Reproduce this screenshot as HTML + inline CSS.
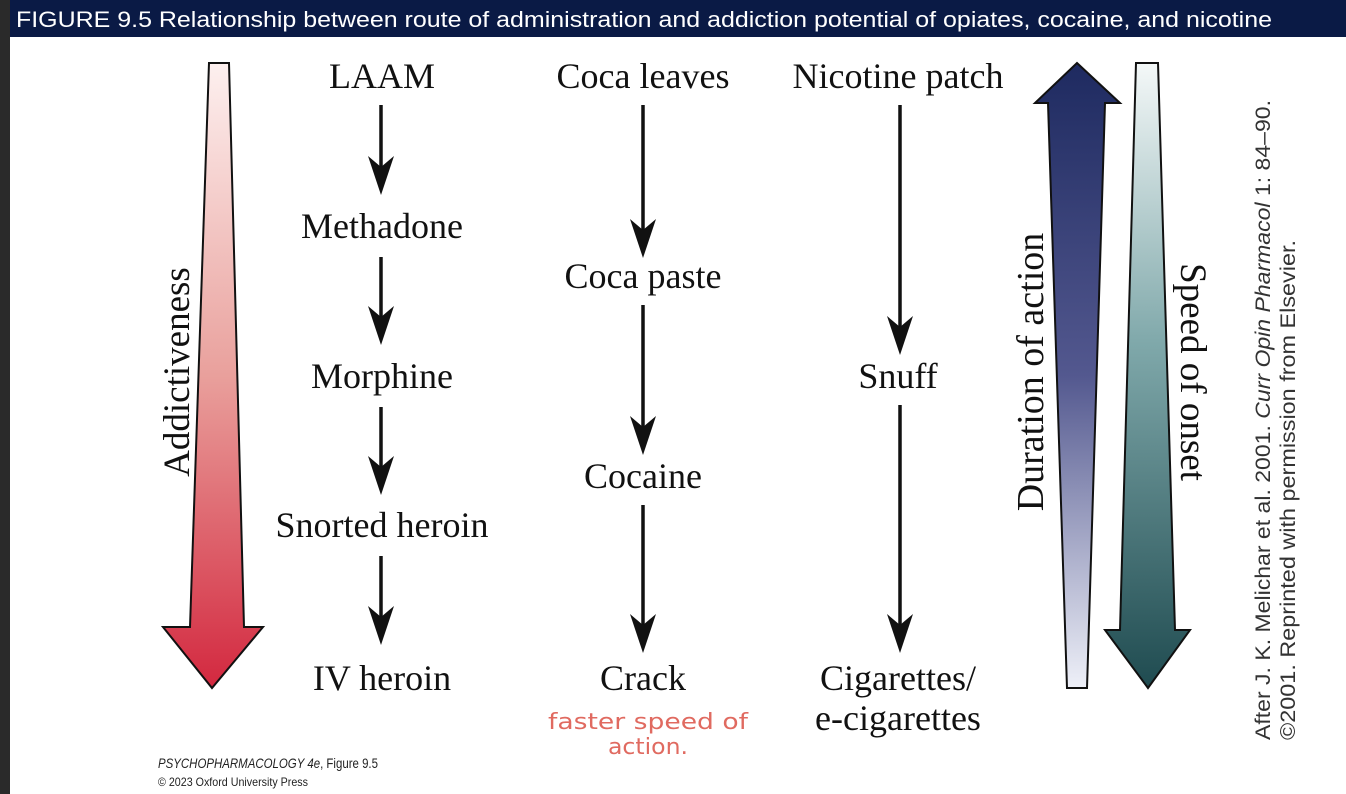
<!DOCTYPE html>
<html><head><meta charset="utf-8"><style>
body{margin:0;width:1346px;height:794px;overflow:hidden;background:#fff;}
svg{display:block}
</style></head><body>
<svg width="1346" height="794" viewBox="0 0 1346 794" xmlns="http://www.w3.org/2000/svg">
<defs>
<linearGradient id="gr" x1="0" y1="0" x2="0" y2="1"><stop offset="0" stop-color="#fdf0ef"/><stop offset="0.5" stop-color="#e9a09c"/><stop offset="1" stop-color="#d3283f"/></linearGradient>
<linearGradient id="gb" x1="0" y1="0" x2="0" y2="1"><stop offset="0" stop-color="#1e2a60"/><stop offset="0.5" stop-color="#53588f"/><stop offset="1" stop-color="#eef0f8"/></linearGradient>
<linearGradient id="gt" x1="0" y1="0" x2="0" y2="1"><stop offset="0" stop-color="#f4f8f8"/><stop offset="0.45" stop-color="#7fa8aa"/><stop offset="1" stop-color="#1f4b50"/></linearGradient>
</defs>
<rect x="0" y="0" width="10" height="794" fill="#2a2a2a"/>
<rect x="10" y="0" width="1336" height="37" fill="#0a1a45"/>
<text x="16" y="27" font-family="Liberation Sans, sans-serif" font-size="22" fill="#fff" textLength="1256" lengthAdjust="spacingAndGlyphs">FIGURE 9.5  Relationship between route of administration and addiction potential of opiates, cocaine, and nicotine</text>

<path d="M209,63 L229,63 L244,627 L263,627 L212,688 L163,627 L190,627 Z" fill="url(#gr)" stroke="#111" stroke-width="2"/>
<path d="M1077,63 L1120,103 L1105,103 L1087,688 L1067,688 L1048,103 L1035,103 Z" fill="url(#gb)" stroke="#111" stroke-width="2"/>
<path d="M1136,63 L1158,63 L1175,630 L1190,630 L1148,688 L1105,630 L1120,630 Z" fill="url(#gt)" stroke="#111" stroke-width="2"/>

<g font-family="Liberation Serif, serif" font-size="36" fill="#111">
<text transform="translate(189,372) rotate(-90)" text-anchor="middle" font-size="37">Addictiveness</text>
<text transform="translate(1043,372) rotate(-90)" text-anchor="middle" font-size="38">Duration of action</text>
<text transform="translate(1181,372) rotate(90)" text-anchor="middle" font-size="37">Speed of onset</text>
<g text-anchor="middle">
<text x="382" y="88">LAAM</text>
<text x="382" y="238">Methadone</text>
<text x="382" y="388">Morphine</text>
<text x="382" y="537">Snorted heroin</text>
<text x="382" y="690">IV heroin</text>
<text x="643" y="88">Coca leaves</text>
<text x="643" y="288">Coca paste</text>
<text x="643" y="488">Cocaine</text>
<text x="643" y="690">Crack</text>
<text x="898" y="88">Nicotine patch</text>
<text x="898" y="388">Snuff</text>
<text x="898" y="690">Cigarettes/</text>
<text x="898" y="730">e-cigarettes</text>
</g></g>

<g stroke="#111" stroke-width="3.5">
<line x1="381" y1="105" x2="381" y2="170"/><line x1="381" y1="257" x2="381" y2="320"/>
<line x1="381" y1="407" x2="381" y2="470"/><line x1="381" y1="556" x2="381" y2="620"/>
<line x1="643" y1="105" x2="643" y2="235"/><line x1="643" y1="305" x2="643" y2="432"/>
<line x1="643" y1="505" x2="643" y2="630"/>
<line x1="900" y1="105" x2="900" y2="333"/><line x1="900" y1="405" x2="900" y2="630"/>
</g>
<g fill="#111">
<path d="M381,195 L368,156 L381,167 L394,156 Z"/>
<path d="M381,345 L368,306 L381,317 L394,306 Z"/>
<path d="M381,495 L368,456 L381,467 L394,456 Z"/>
<path d="M381,645 L368,606 L381,617 L394,606 Z"/>
<path d="M643,258 L630,219 L643,230 L656,219 Z"/>
<path d="M643,455 L630,416 L643,427 L656,416 Z"/>
<path d="M643,653 L630,614 L643,625 L656,614 Z"/>
<path d="M900,355 L887,316 L900,327 L913,316 Z"/>
<path d="M900,653 L887,614 L900,625 L913,614 Z"/>
</g>

<g font-family="DejaVu Sans, sans-serif" fill="#e06a60" font-size="22" text-anchor="middle">
<text x="648" y="729" textLength="200" lengthAdjust="spacingAndGlyphs">faster speed of</text>
<text x="648" y="754" textLength="80" lengthAdjust="spacingAndGlyphs">action.</text>
</g>

<g font-family="Liberation Sans, sans-serif" fill="#222">
<text x="158" y="768" font-size="14" font-style="italic" textLength="220" lengthAdjust="spacingAndGlyphs">PSYCHOPHARMACOLOGY 4e<tspan font-style="normal">, Figure 9.5</tspan></text>
<text x="158" y="786" font-size="12" textLength="150" lengthAdjust="spacingAndGlyphs">© 2023 Oxford University Press</text>
</g>

<g font-family="Liberation Sans, sans-serif" font-size="21" fill="#333">
<text transform="translate(1270,740) rotate(-90)" textLength="640" lengthAdjust="spacingAndGlyphs">After J. K. Melichar et al. 2001. <tspan font-style="italic">Curr Opin Pharmacol</tspan> 1: 84–90.</text>
<text transform="translate(1295,740) rotate(-90)" textLength="500" lengthAdjust="spacingAndGlyphs">©2001. Reprinted with permission from Elsevier.</text>
</g>
</svg>
</body></html>
